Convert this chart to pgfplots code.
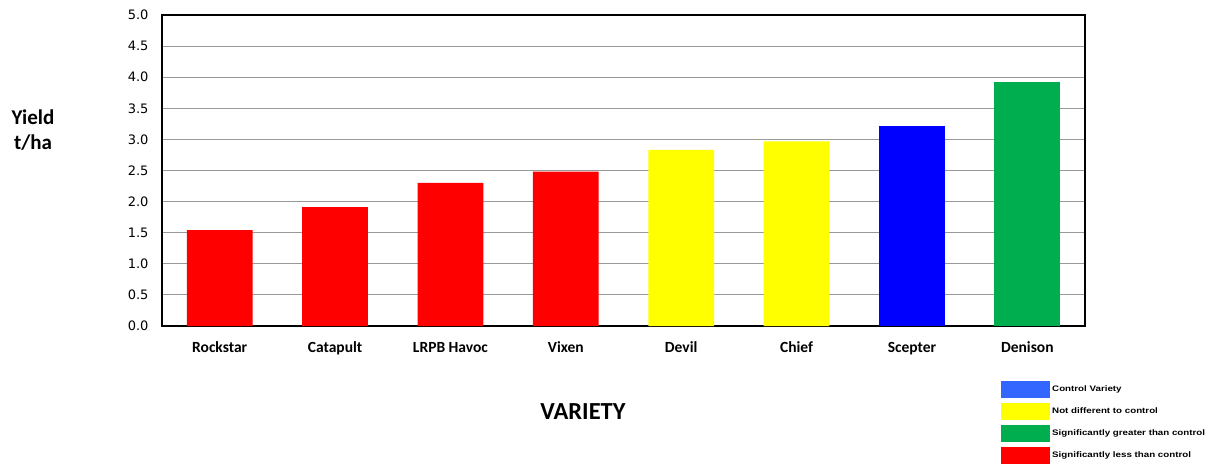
\documentclass[border=0pt]{standalone}
\usepackage{pgfplots}
\pgfplotsset{compat=1.18}
\usepackage{fontspec}
\setmainfont{Carlito}
\newfontfamily\dejavu{DejaVu Sans}
\newfontfamily\arialf[FakeStretch=1.22]{Liberation Sans}
\definecolor{cred}{HTML}{FF0000}
\definecolor{cyel}{HTML}{FFFF00}
\definecolor{cblue}{HTML}{0000FF}
\definecolor{cgreen}{HTML}{00AD4F}
\definecolor{lblue}{HTML}{3366FF}
\begin{document}
\begin{tikzpicture}
\path[use as bounding box] (0pt,0pt) rectangle (1217pt,464pt);
\begin{axis}[
  at={(162pt,138pt)}, anchor=south west,
  scale only axis, width=923pt, height=311pt,
  xmin=-0.5, xmax=7.5, ymin=0, ymax=5,
  ytick={0,0.5,...,5.0},
  yticklabel style={font=\dejavu\fontsize{13}{15}\selectfont, xshift=-10pt, /pgf/number format/.cd, fixed, fixed zerofill, precision=1},
  /pgf/number format/assume math mode=true,
  xtick={0,...,7},
  xticklabels={Rockstar,Catapult,LRPB Havoc,Vixen,Devil,Chief,Scepter,Denison},
  xticklabel style={font=\bfseries\fontsize{15.5}{18}\selectfont, text height=10pt, text depth=3pt, yshift=-13pt},
  major tick length=0pt,
  ymajorgrids, grid style={gray!80, line width=1pt},
  axis line style={line width=2pt},
  ybar, bar width=0.57, bar shift=0pt,
  legend style={at={(rel axis cs:0.909,-0.175)}, anchor=north west, draw=none, fill=none,
     font=\arialf\bfseries\fontsize{8}{8}\selectfont, row sep=5pt, inner sep=0pt, cells={anchor=west}},
  legend image code/.code={\fill[#1] (0pt,-8.5pt) rectangle (49pt,8.5pt);},
  clip=false,
]
\addplot[fill=cblue, draw=none, forget plot] coordinates {(6,3.22)};
\addlegendimage{fill=lblue, draw=none}
\addlegendentry{Control Variety}
\addplot[fill=cyel, draw=none] coordinates {(4,2.83) (5,2.97)};
\addlegendentry{Not different to control}
\addplot[fill=cgreen, draw=none] coordinates {(7,3.92)};
\addlegendentry{Significantly greater than control}
\addplot[fill=cred, draw=none] coordinates {(0,1.54) (1,1.91) (2,2.30) (3,2.48)};
\addlegendentry{Significantly less than control}
\end{axis}
\node[font=\bfseries\fontsize{21}{25}\selectfont, align=center] at (33pt,334pt) {Yield\\t/ha};
\node[font=\bfseries\fontsize{24.5}{28}\selectfont] at (583pt,52pt) {VARIETY};
\end{tikzpicture}
\end{document}
